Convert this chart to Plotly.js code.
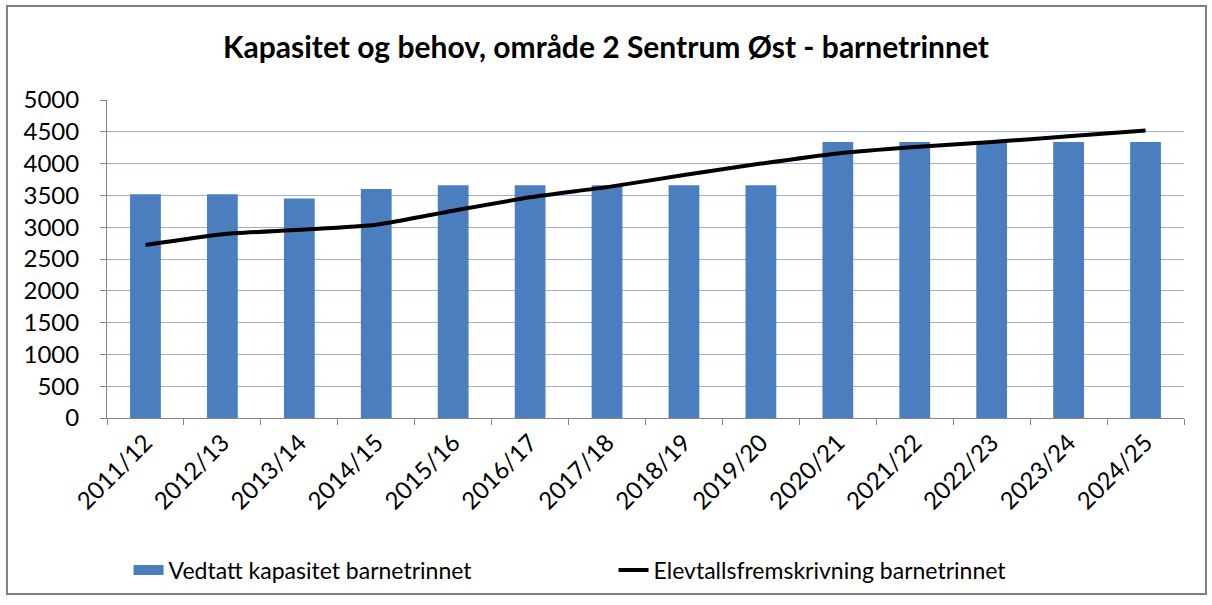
<!DOCTYPE html>
<html>
<head>
<meta charset="utf-8">
<script src="https://cdn.plot.ly/plotly-3.0.1.min.js"></script>
<style>html,body{margin:0;padding:0;background:#fff;}#chart{width:1212px;height:605px;}</style>
</head>
<body>
<div id="chart"></div>
<script>
const categories = ["2011/12","2012/13","2013/14","2014/15","2015/16","2016/17","2017/18","2018/19","2019/20","2020/21","2021/22","2022/23","2023/24","2024/25"];
const capacity = [3520,3520,3450,3600,3660,3660,3660,3660,3660,4340,4340,4340,4340,4340];
const projection = [2720,2890,2960,3040,3260,3470,3630,3820,4000,4160,4260,4340,4430,4520];
const yTicks = [0,500,1000,1500,2000,2500,3000,3500,4000,4500,5000];
const seriesNames = ["Vedtatt kapasitet barnetrinnet","Elevtallsfremskrivning barnetrinnet"];

const fontFam = "Lato, 'Open Sans', sans-serif";
const barColor = "#4a7ebf";

const traces = [
  {type:"bar", x:categories, y:capacity, name:seriesNames[0], showlegend:false,
   marker:{color:barColor, line:{width:0}}},
  {type:"scatter", mode:"lines", x:[null], y:[null], name:seriesNames[0], hoverinfo:"skip",
   line:{color:barColor, width:18}},
  {type:"scatter", mode:"lines", x:categories, y:projection, name:seriesNames[1],
   line:{color:"#000000", width:4, shape:"spline", smoothing:0.6}}
];

const layout = {
  width:1212, height:605,
  margin:{l:107, r:28, t:100, b:187},
  paper_bgcolor:"#ffffff", plot_bgcolor:"#ffffff",
  font:{family:fontFam, color:"#000000", size:21},
  title:{text:"<b>Kapasitet og behov, område 2 Sentrum Øst - barnetrinnet</b>",
         font:{family:fontFam, size:30, color:"#000"}, x:0.5, xanchor:"center", y:0.922, yanchor:"middle"},
  bargap:0.6,
  showlegend:true,
  legend:{orientation:"h", x:0.02, xanchor:"left", y:-0.478, yanchor:"middle",
          font:{family:fontFam, size:23}, traceorder:"normal", entrywidth:440, entrywidthmode:"pixels"},
  xaxis:{type:"category", tickangle:-45, showgrid:false, showline:true, linecolor:"#868686", linewidth:1,
         ticks:"outside", ticklen:6, tickcolor:"#868686", tickson:"boundaries",
         tickfont:{family:fontFam, size:24}, zeroline:false},
  yaxis:{range:[0,5000], tickvals:yTicks, ticktext:yTicks.map(String), showgrid:true, gridcolor:"#a3acd2", gridwidth:1.3,
         showline:true, linecolor:"#868686", linewidth:1, ticks:"outside", ticklen:6, tickcolor:"#868686",
         tickfont:{family:fontFam, size:24}, zeroline:false, ticklabelstandoff:16},
  shapes:[{type:"rect", xref:"paper", yref:"paper", x0:-0.0929, x1:1.0204, y0:-0.5535, y1:1.2956,
           line:{color:"#808080", width:2}, fillcolor:"rgba(0,0,0,0)", layer:"below"}]
};

Plotly.newPlot("chart", traces, layout, {displayModeBar:false, responsive:false});
</script>
</body>
</html>
